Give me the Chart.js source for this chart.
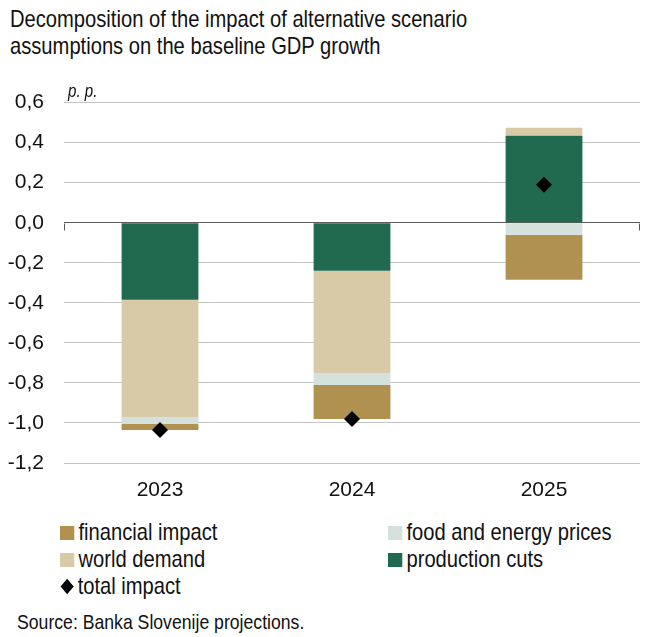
<!DOCTYPE html>
<html>
<head>
<meta charset="utf-8">
<script src="https://cdn.jsdelivr.net/npm/chart.js@4.4.1/dist/chart.umd.min.js"></script>
<style>
    body { margin: 0; background: #fff; width: 645px; height: 637px; position: relative; overflow: hidden;
           font-family: "Liberation Sans", Arial, sans-serif; color: #111; }
    .narrow { transform: scaleX(0.84); transform-origin: 0 0; white-space: nowrap; }
    #title { position: absolute; left: 10px; top: 5px; font-size: 24px; line-height: 27px; }
    #unit { position: absolute; left: 68px; top: 81px; font-size: 18px; font-style: italic; }
    #wrap { position: absolute; left: 0; top: 70px; width: 645px; height: 440px; }
    #legend { position: absolute; left: 60px; top: 518px; width: 580px; font-size: 24px; }
    .item { position: absolute; white-space: nowrap; line-height: 27px; }
    .sw { display: inline-block; width: 17px; height: 14px; margin-right: 5px; vertical-align: 0; }
    .dia { display: inline-block; width: 11px; height: 11px; background: #000; transform: rotate(45deg);
           margin: 0 7px 0 3px; vertical-align: 2px; }
    #source { position: absolute; left: 17px; top: 610px; font-size: 21px; }
</style>
</head>
<body>
<div id="title" class="narrow">Decomposition of the impact of alternative scenario<br>assumptions on the baseline GDP growth</div>
<div id="wrap"><canvas id="chart"></canvas></div>
<div id="unit" class="narrow">p. p.</div>
<div id="legend"></div>
<div id="source" class="narrow">Source: Banka Slovenije projections.</div>

<script>
// years on the x axis
const years = ['2023', '2024', '2025'];

// contributions, p. p.
const productionCuts = [-0.385, -0.24, 0.435];
const worldDemand = [-0.585, -0.51, 0.04];
const foodEnergy = [-0.035, -0.06, -0.06];
const financialImpact = [-0.03, -0.17, -0.225];
const totalImpact = [-1.035, -0.98, 0.19];

// y axis range and step
const yMin = -1.2;
const yMax = 0.6;
const yStep = 0.2;

const colors = {
    financial: '#b0914f',
    food: '#d4e1dc',
    world: '#d8caa6',
    production: '#216a50'
};

// little down-ticks at both ends of the zero line
const zeroTicks = {
    id: 'zeroTicks',
    afterDraw(chart) {
        const { ctx, chartArea, scales } = chart;
        const y0 = Math.round(scales.y.getPixelForValue(0)) + 0.5;
        ctx.save();
        ctx.strokeStyle = '#5a5a5a';
        ctx.lineWidth = 1;
        ctx.beginPath();
        ctx.moveTo(chartArea.left + 0.5, y0);
        ctx.lineTo(chartArea.left + 0.5, y0 + 7);
        ctx.moveTo(chartArea.right - 0.5, y0);
        ctx.lineTo(chartArea.right - 0.5, y0 + 7);
        ctx.stroke();
        ctx.restore();
    }
};

const font = { family: '"Liberation Sans", Arial, sans-serif', size: 21 };

const chart = new Chart(document.getElementById('chart'), {
    type: 'bar',
    data: {
        labels: years,
        datasets: [
            { label: 'production cuts', data: productionCuts, backgroundColor: colors.production, order: 1 },
            { label: 'world demand', data: worldDemand, backgroundColor: colors.world, order: 1 },
            { label: 'food and energy prices', data: foodEnergy, backgroundColor: colors.food, order: 1 },
            { label: 'financial impact', data: financialImpact, backgroundColor: colors.financial, order: 1 },
            {
                type: 'line',
                label: 'total impact',
                data: totalImpact,
                stack: 'total',
                order: 0,
                showLine: false,
                pointStyle: 'rectRot',
                pointRadius: 8,
                pointBackgroundColor: '#000',
                pointBorderColor: '#000',
                pointBorderWidth: 0
            }
        ]
    },
    options: {
        responsive: true,
        maintainAspectRatio: false,
        animation: false,
        layout: { autoPadding: false, padding: { top: 20, right: 5, left: 0, bottom: 0 } },
        plugins: { legend: { display: false }, tooltip: { enabled: false } },
        datasets: {
            bar: { categoryPercentage: 1, barPercentage: 0.4, borderWidth: 0 }
        },
        scales: {
            x: {
                stacked: true,
                grid: { display: false },
                border: { display: false },
                ticks: { color: '#111', font: font, padding: 7 },
                afterFit: (scale) => { scale.height = 47; }
            },
            y: {
                stacked: true,
                min: yMin,
                max: yMax,
                border: { display: false },
                grid: {
                    drawTicks: false,
                    color: (ctx) => (ctx.tick && Math.abs(ctx.tick.value) < 1e-9 ? '#5a5a5a' : '#c4c4c4')
                },
                ticks: {
                    stepSize: yStep,
                    color: '#111',
                    font: font,
                    padding: 20,
                    callback: (v) => (Math.abs(v) < 1e-9 ? 0 : v).toFixed(1).replace('.', ',')
                },
                afterFit: (scale) => { scale.width = 64; }
            }
        }
    },
    plugins: [zeroTicks]
});

// legend laid out in two columns
const legendItems = [
    { text: 'financial impact', color: colors.financial, x: 0, y: 0 },
    { text: 'food and energy prices', color: colors.food, x: 328, y: 0 },
    { text: 'world demand', color: colors.world, x: 0, y: 27 },
    { text: 'production cuts', color: colors.production, x: 328, y: 27 },
    { text: 'total impact', marker: 'diamond', x: 0, y: 54 }
];
const legend = document.getElementById('legend');
legendItems.forEach(item => {
    const el = document.createElement('div');
    el.className = 'item narrow';
    el.style.left = item.x + 'px';
    el.style.top = item.y + 'px';
    const mark = document.createElement('span');
    if (item.marker === 'diamond') {
        mark.className = 'dia';
    } else {
        mark.className = 'sw';
        mark.style.background = item.color;
    }
    el.appendChild(mark);
    el.appendChild(document.createTextNode(item.text));
    legend.appendChild(el);
});
</script>
</body>
</html>
